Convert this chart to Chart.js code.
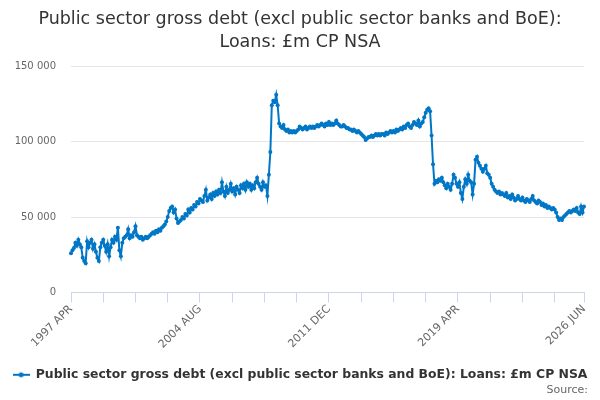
<!DOCTYPE html>
<html>
<head>
<meta charset="utf-8">
<script src="https://cdn.jsdelivr.net/npm/chart.js@4.4.1/dist/chart.umd.min.js"></script>
<style>
  html, body { margin: 0; padding: 0; background: #ffffff; }
  #wrap { width: 600px; height: 400px; position: relative; }
</style>
</head>
<body>
<div id="wrap"><canvas id="c" width="600" height="400"></canvas></div>
<script>
// Monthly series, 1997 APR .. 2026 JUN (values in £m)
const startYear = 1997;
const startMonth = 3; // APR (0-based)
const monthNames = ['JAN','FEB','MAR','APR','MAY','JUN','JUL','AUG','SEP','OCT','NOV','DEC'];

const v1997 = [26000, 28000, 29500, 33000, 31000, 35000, 32000, 30000, 23000];
const v1998 = [21000, 19500, 34000, 30000, 33000, 35000, 29000, 32000, 27000, 23000, 21000, 30000];
const v1999 = [33000, 35000, 31000, 27000, 32000, 24000, 30000, 35000, 33000, 37000, 35000, 43000];
const v2000 = [28000, 24000, 33000, 36000, 37000, 38000, 42000, 36000, 38000, 37000, 40000, 44000];
const v2001 = [38000, 37000, 36000, 37000, 35000, 36000, 37000, 36000, 37000, 38000, 39000, 40000];
const v2002 = [39000, 41000, 40000, 42000, 41000, 43000, 44000, 45000, 47000, 50000, 54000, 56000];
const v2003 = [57000, 53000, 55000, 49000, 46000, 47000, 48000, 50000, 49000, 52000, 51000, 55000];
const v2004 = [53000, 56000, 55000, 58000, 57000, 60000, 59000, 62000, 61000, 60000, 64000, 68000];
const v2005 = [61000, 63000, 65000, 62000, 66000, 64000, 67000, 65000, 68000, 66000, 73000, 67000];
const v2006 = [64000, 70000, 66000, 68000, 72000, 67000, 69000, 65000, 70000, 68000, 66000, 71000];
const v2007 = [69000, 72000, 68000, 73000, 70000, 72000, 68000, 71000, 69000, 73000, 76000, 72000];
const v2008 = [70000, 68000, 73000, 70000, 71000, 64000, 78000, 93000, 124000, 127000, 126000, 131000];
const v2009 = [124000, 112000, 110000, 109000, 111000, 108000, 107000, 108000, 106000, 107000, 106000, 107000];
const v2010 = [106000, 107000, 108000, 110000, 109000, 108000, 109000, 110000, 108000, 109000, 110000, 109000];
const v2011 = [110000, 109000, 110000, 111000, 110000, 111000, 112000, 111000, 110000, 112000, 111000, 113000];
const v2012 = [111000, 112000, 111000, 112000, 114000, 112000, 111000, 110000, 110000, 111000, 110000, 109000];
const v2013 = [109000, 108000, 108000, 107000, 108000, 107000, 106000, 107000, 106000, 105000, 104000, 103000];
const v2014 = [101000, 102000, 103000, 103000, 104000, 103000, 104000, 105000, 104000, 105000, 104000, 105000];
const v2015 = [105000, 104000, 106000, 105000, 106000, 107000, 106000, 107000, 106000, 108000, 107000, 108000];
const v2016 = [109000, 108000, 110000, 109000, 111000, 112000, 110000, 109000, 111000, 113000, 112000, 111000];
const v2017 = [114000, 110000, 112000, 113000, 116000, 119000, 121000, 122000, 120000, 104000, 85000, 72000];
const v2018 = [74000, 73000, 75000, 74000, 76000, 73000, 71000, 69000, 72000, 70000, 68000, 72000];
const v2019 = [78000, 76000, 72000, 70000, 73000, 66000, 62000, 70000, 75000, 72000, 78000, 74000];
const v2020 = [73000, 65000, 72000, 88000, 90000, 86000, 84000, 82000, 80000, 82000, 84000, 79000];
const v2021 = [78000, 76000, 72000, 70000, 68000, 67000, 66000, 67000, 65000, 66000, 65000, 64000];
const v2022 = [66000, 63000, 64000, 62000, 65000, 63000, 61000, 62000, 64000, 62000, 61000, 63000];
const v2023 = [61000, 60000, 62000, 61000, 60000, 62000, 64000, 61000, 60000, 59000, 61000, 60000];
const v2024 = [58000, 59000, 57000, 58000, 56000, 57000, 56000, 55000, 56000, 55000, 53000, 50000];
const v2025 = [48000, 49000, 48000, 50000, 51000, 52000, 53000, 54000, 53000, 54000, 55000, 54000];
const v2026 = [56000, 53000, 52000, 57000, 53000, 57000];

const values = [].concat(v1997, v1998, v1999, v2000, v2001, v2002, v2003, v2004, v2005,
  v2006, v2007, v2008, v2009, v2010, v2011, v2012, v2013, v2014, v2015, v2016, v2017,
  v2018, v2019, v2020, v2021, v2022, v2023, v2024, v2025, v2026);

const categories = values.map((_, i) => {
  const m = startMonth + i;
  return (startYear + Math.floor(m / 12)) + ' ' + monthNames[m % 12];
});

const yTicks = [0, 50000, 100000, 150000];
const seriesName = 'Public sector gross debt (excl public sector banks and BoE): Loans: £m CP NSA';
const titleLines = ['Public sector gross debt (excl public sector banks and BoE):', 'Loans: £m CP NSA'];
const sourceText = 'Source:';

const lineColor = '#0077c6';
const last = categories.length - 1;
const labelStep = 88, tickStep = 22;

// legend symbol: short line with dot
const sym = document.createElement('canvas');
sym.width = 17; sym.height = 8;
(function(){
  const g = sym.getContext('2d');
  g.strokeStyle = lineColor; g.lineWidth = 2;
  g.beginPath(); g.moveTo(0, 4); g.lineTo(17, 4); g.stroke();
  g.fillStyle = lineColor; g.beginPath(); g.arc(8.5, 4, 2.5, 0, Math.PI * 2); g.fill();
})();

const fmt = v => String(v).replace(/\B(?=(\d{3})+(?!\d))/g, ' ');
const FONT = 'DejaVu Sans';

const sourcePlugin = {
  id: 'sourceText',
  afterDraw(chart) {
    const c = chart.ctx;
    c.save();
    c.font = '11px "' + FONT + '"';
    c.fillStyle = '#666666';
    c.textAlign = 'right';
    c.textBaseline = 'middle';
    c.fillText(sourceText, 588, 390);
    c.restore();
  }
};

new Chart(document.getElementById('c'), {
  type: 'line',
  data: {
    labels: categories,
    datasets: [{
      label: seriesName,
      data: values,
      borderColor: lineColor,
      backgroundColor: lineColor,
      borderWidth: 2,
      pointRadius: 2,
      pointHoverRadius: 2,
      pointBackgroundColor: lineColor,
      pointBorderWidth: 0,
      tension: 0
    }]
  },
  plugins: [sourcePlugin],
  options: {
    responsive: false,
    animation: false,
    devicePixelRatio: 1,
    layout: { padding: { left: 0, right: 0, top: 0, bottom: 9 } },
    plugins: {
      title: {
        display: true,
        text: titleLines,
        color: '#333333',
        font: { family: FONT, size: 17.5, weight: 'normal', lineHeight: 1.3 },
        padding: { top: 8, bottom: 12.5 }
      },
      legend: {
        display: true,
        position: 'bottom',
        labels: {
          usePointStyle: true,
          pointStyleWidth: 17,
          padding: 6,
          color: '#333333',
          font: { family: FONT, size: 12.4, weight: 'bold' },
          generateLabels: () => [{
            text: seriesName, pointStyle: sym, fillStyle: lineColor,
            strokeStyle: lineColor, lineWidth: 0, hidden: false, datasetIndex: 0,
            fontColor: '#333333'
          }]
        }
      },
      tooltip: { enabled: false }
    },
    scales: {
      x: {
        type: 'category',
        offset: false,
        border: { display: true, color: '#ccd6eb', width: 1 },
        grid: {
          drawOnChartArea: false,
          drawTicks: true,
          tickLength: 10,
          tickColor: ctx => (ctx.index % tickStep === 0 || ctx.index === last) ? '#ccd6eb' : 'rgba(0,0,0,0)'
        },
        ticks: {
          autoSkip: false,
          maxRotation: 45,
          minRotation: 45,
          padding: 0,
          color: '#666666',
          font: { family: FONT, size: 11 },
          callback: (val, idx) => (idx % labelStep === 0 || idx === last) ? categories[idx] : ''
        },
        afterFit: s => { s.height = 70; }
      },
      y: {
        min: 0,
        max: 150000,
        afterBuildTicks: s => { s.ticks = yTicks.map(v => ({ value: v })); },
        border: { display: false },
        grid: { color: '#e6e6e6', drawTicks: false, lineWidth: 1 },
        ticks: {
          padding: 15,
          color: '#666666',
          font: { family: FONT, size: 10 },
          callback: v => fmt(v)
        },
        afterFit: s => { s.width = 71; }
      },
      yR: {
        position: 'right',
        display: true,
        border: { display: false },
        grid: { drawOnChartArea: false, drawTicks: false },
        ticks: { display: false },
        afterFit: s => { s.width = 16; }
      }
    }
  }
});
</script>
</body>
</html>
